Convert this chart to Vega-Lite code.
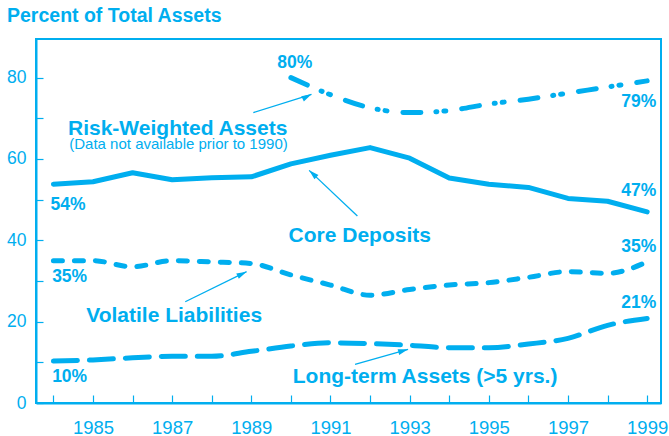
{
  "$schema": "https://vega.github.io/schema/vega-lite/v6.json",
  "autosize": {"type": "none"},
  "width": 625,
  "height": 364,
  "padding": {"left": 36, "top": 39, "right": 8, "bottom": 33},
  "background": "white",
  "title": {
    "text": "Percent of Total Assets",
    "anchor": "start",
    "frame": "group",
    "dx": -29,
    "offset": 13,
    "font": "Liberation Sans",
    "fontSize": 19.5,
    "fontWeight": "bold",
    "color": "#00AEEF"
  },
  "config": {
    "view": {"stroke": "#00AEEF", "strokeWidth": 2},
    "axis": {
      "domainColor": "#00AEEF",
      "domainWidth": 2,
      "tickColor": "#00AEEF",
      "tickWidth": 1.2,
      "labelColor": "#00AEEF",
      "labelFont": "Liberation Sans",
      "grid": false,
      "title": null
    }
  },
  "datasets": {
    "core": [
      {"series": "Core Deposits", "year": 1984, "value": 53.8},
      {"series": "Core Deposits", "year": 1985, "value": 54.4},
      {"series": "Core Deposits", "year": 1986, "value": 56.6},
      {"series": "Core Deposits", "year": 1987, "value": 54.9},
      {"series": "Core Deposits", "year": 1988, "value": 55.4},
      {"series": "Core Deposits", "year": 1989, "value": 55.6},
      {"series": "Core Deposits", "year": 1990, "value": 58.8},
      {"series": "Core Deposits", "year": 1991, "value": 60.9},
      {"series": "Core Deposits", "year": 1992, "value": 62.8},
      {"series": "Core Deposits", "year": 1993, "value": 60.2},
      {"series": "Core Deposits", "year": 1994, "value": 55.3},
      {"series": "Core Deposits", "year": 1995, "value": 53.8},
      {"series": "Core Deposits", "year": 1996, "value": 53.0},
      {"series": "Core Deposits", "year": 1997, "value": 50.3},
      {"series": "Core Deposits", "year": 1998, "value": 49.6},
      {"series": "Core Deposits", "year": 1999, "value": 47.0}
    ],
    "series": [
      {"series": "Risk-Weighted Assets", "year": 1990, "value": 80.0},
      {"series": "Risk-Weighted Assets", "year": 1991, "value": 75.8},
      {"series": "Risk-Weighted Assets", "year": 1992, "value": 72.6},
      {"series": "Risk-Weighted Assets", "year": 1993, "value": 71.4},
      {"series": "Risk-Weighted Assets", "year": 1994, "value": 71.9},
      {"series": "Risk-Weighted Assets", "year": 1995, "value": 73.5},
      {"series": "Risk-Weighted Assets", "year": 1996, "value": 74.7},
      {"series": "Risk-Weighted Assets", "year": 1997, "value": 76.2},
      {"series": "Risk-Weighted Assets", "year": 1998, "value": 77.7},
      {"series": "Risk-Weighted Assets", "year": 1999, "value": 79.2},
      {"series": "Volatile Liabilities", "year": 1984, "value": 35.0},
      {"series": "Volatile Liabilities", "year": 1985, "value": 35.0},
      {"series": "Volatile Liabilities", "year": 1986, "value": 33.5},
      {"series": "Volatile Liabilities", "year": 1987, "value": 35.0},
      {"series": "Volatile Liabilities", "year": 1988, "value": 34.7},
      {"series": "Volatile Liabilities", "year": 1989, "value": 34.3},
      {"series": "Volatile Liabilities", "year": 1990, "value": 31.5},
      {"series": "Volatile Liabilities", "year": 1991, "value": 29.0},
      {"series": "Volatile Liabilities", "year": 1992, "value": 26.5},
      {"series": "Volatile Liabilities", "year": 1993, "value": 27.9},
      {"series": "Volatile Liabilities", "year": 1994, "value": 29.0},
      {"series": "Volatile Liabilities", "year": 1995, "value": 29.6},
      {"series": "Volatile Liabilities", "year": 1996, "value": 30.9},
      {"series": "Volatile Liabilities", "year": 1997, "value": 32.3},
      {"series": "Volatile Liabilities", "year": 1998, "value": 31.9},
      {"series": "Volatile Liabilities", "year": 1999, "value": 34.7},
      {"series": "Long-term Assets", "year": 1984, "value": 10.3},
      {"series": "Long-term Assets", "year": 1985, "value": 10.6},
      {"series": "Long-term Assets", "year": 1986, "value": 11.1},
      {"series": "Long-term Assets", "year": 1987, "value": 11.5},
      {"series": "Long-term Assets", "year": 1988, "value": 11.5},
      {"series": "Long-term Assets", "year": 1989, "value": 12.7},
      {"series": "Long-term Assets", "year": 1990, "value": 14.0},
      {"series": "Long-term Assets", "year": 1991, "value": 14.8},
      {"series": "Long-term Assets", "year": 1992, "value": 14.6},
      {"series": "Long-term Assets", "year": 1993, "value": 14.2},
      {"series": "Long-term Assets", "year": 1994, "value": 13.6},
      {"series": "Long-term Assets", "year": 1995, "value": 13.6},
      {"series": "Long-term Assets", "year": 1996, "value": 14.5},
      {"series": "Long-term Assets", "year": 1997, "value": 15.9},
      {"series": "Long-term Assets", "year": 1998, "value": 19.1},
      {"series": "Long-term Assets", "year": 1999, "value": 20.8}
    ],
    "arrows": [
      {"x": 1989.05, "y": 71.4, "x2": 1990.52, "y2": 75.9, "angle": 63},
      {"x": 1991.68, "y": 46.0, "x2": 1990.46, "y2": 57.2, "angle": 313},
      {"x": 1987.33, "y": 24.9, "x2": 1988.88, "y2": 32.3, "angle": 64},
      {"x": 1991.62, "y": 9.5, "x2": 1992.96, "y2": 13.2, "angle": 74}
    ],
    "pct": [
      {"label": "80%", "year": 1990.1, "value": 83.7},
      {"label": "79%", "year": 1998.79, "value": 73.9},
      {"label": "47%", "year": 1998.79, "value": 52.1},
      {"label": "35%", "year": 1998.79, "value": 38.35},
      {"label": "21%", "year": 1998.79, "value": 24.6},
      {"label": "54%", "year": 1984.37, "value": 48.8},
      {"label": "35%", "year": 1984.41, "value": 31.0},
      {"label": "10%", "year": 1984.41, "value": 6.33}
    ],
    "names": [
      {"label": "Risk-Weighted Assets", "year": 1987.14, "value": 65.9},
      {"label": "Core Deposits", "year": 1991.74, "value": 39.66},
      {"label": "Volatile Liabilities", "year": 1987.05, "value": 19.95},
      {"label": "Long-term Assets (>5 yrs.)", "year": 1993.39, "value": 4.93}
    ],
    "notes": [
      {"label": "(Data not available prior to 1990)", "year": 1987.16, "value": 62.4}
    ]
  },
  "encoding": {
    "x": {
      "field": "year",
      "type": "quantitative",
      "scale": {"domain": [1983.56, 1999.35], "nice": false, "zero": false},
      "axis": {
        "values": [1984, 1985, 1986, 1987, 1988, 1989, 1990, 1991, 1992, 1993, 1994, 1995, 1996, 1997, 1998, 1999],
        "labelExpr": "datum.value % 2 == 1 ? '' + datum.value : ''",
        "tickSize": -8,
        "labelPadding": 23,
        "labelFontSize": 18.5,
        "labelBaseline": "top"
      }
    },
    "y": {
      "field": "value",
      "type": "quantitative",
      "scale": {"domain": [0, 89.5], "nice": false},
      "axis": {
        "values": [0, 10, 20, 30, 40, 50, 60, 70, 80],
        "labelExpr": "datum.value % 20 == 0 ? '' + datum.value : ''",
        "tickSize": -7,
        "labelPadding": 17,
        "labelFontSize": 17.5
      }
    }
  },
  "layer": [
    {
      "data": {"name": "core"},
      "mark": {"type": "line", "strokeWidth": 5, "strokeCap": "round", "strokeJoin": "round", "color": "#00AEEF"},
      "encoding": {}
    },
    {
      "data": {"name": "series"},
      "mark": {"type": "line", "strokeWidth": 5, "strokeCap": "round", "strokeJoin": "round", "color": "#00AEEF", "interpolate": "monotone"},
      "encoding": {
        "detail": {"field": "series"},
        "strokeDash": {
          "field": "series",
          "type": "nominal",
          "scale": {
            "domain": ["Risk-Weighted Assets", "Volatile Liabilities", "Long-term Assets"],
            "range": [[18, 15, 1, 7, 2, 16], [9, 12], [24, 12]]
          },
          "legend": null
        }
      }
    },
    {
      "data": {"name": "arrows"},
      "mark": {"type": "rule", "color": "#00AEEF", "strokeWidth": 1.3},
      "encoding": {
        "x": {"field": "x", "type": "quantitative"},
        "y": {"field": "y", "type": "quantitative"},
        "x2": {"field": "x2"},
        "y2": {"field": "y2"}
      }
    },
    {
      "data": {"name": "arrows"},
      "mark": {"type": "point", "shape": "M0,0L-0.7,2.4L0.7,2.4Z", "filled": true, "color": "#00AEEF", "opacity": 1, "size": 70},
      "encoding": {
        "x": {"field": "x2", "type": "quantitative"},
        "y": {"field": "y2", "type": "quantitative"},
        "angle": {"field": "angle", "type": "quantitative", "scale": null}
      }
    },
    {
      "data": {"name": "pct"},
      "mark": {"type": "text", "font": "Liberation Sans", "fontWeight": "bold", "fontSize": 17.5, "color": "#00AEEF", "baseline": "middle", "align": "center"},
      "encoding": {
        "x": {"field": "year", "type": "quantitative"},
        "y": {"field": "value", "type": "quantitative"},
        "text": {"field": "label"}
      }
    },
    {
      "data": {"name": "names"},
      "mark": {"type": "text", "font": "Liberation Sans", "fontWeight": "bold", "fontSize": 21, "color": "#00AEEF", "baseline": "alphabetic", "align": "center"},
      "encoding": {
        "x": {"field": "year", "type": "quantitative"},
        "y": {"field": "value", "type": "quantitative"},
        "text": {"field": "label"}
      }
    },
    {
      "data": {"name": "notes"},
      "mark": {"type": "text", "font": "Liberation Sans", "fontSize": 15, "color": "#00AEEF", "baseline": "alphabetic", "align": "center"},
      "encoding": {
        "x": {"field": "year", "type": "quantitative"},
        "y": {"field": "value", "type": "quantitative"},
        "text": {"field": "label"}
      }
    }
  ]
}
